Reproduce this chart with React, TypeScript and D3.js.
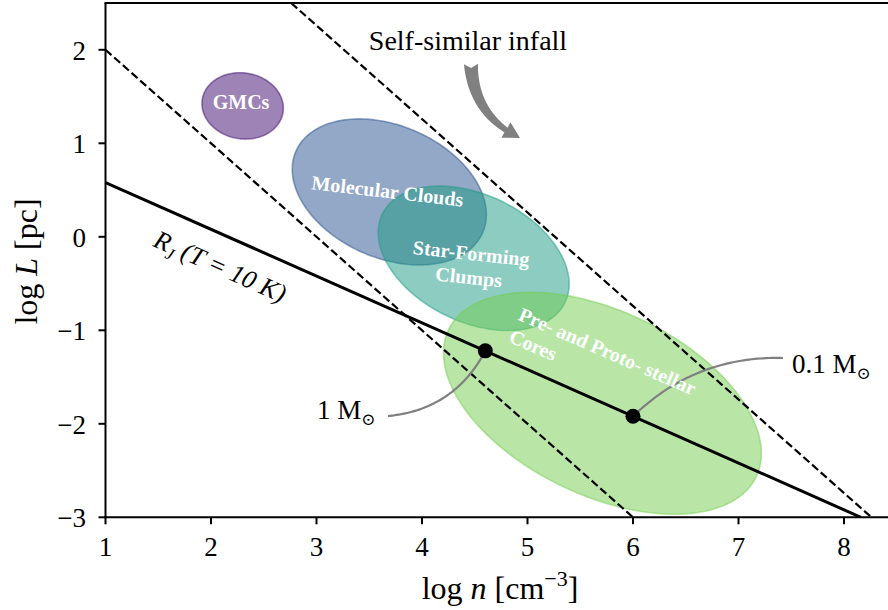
import React from "react";
import * as d3 from "d3";

// ---- axes ----
const xTicks = [1, 2, 3, 4, 5, 6, 7, 8];
const yTicks = [-3, -2, -1, 0, 1, 2];
const xDomain = [1, 8.5];
const yDomain = [-3, 2.5];

// ---- structure classes (ellipses in log n / log L space) ----
const regionNames = ["GMCs", "Molecular Clouds", "Star-Forming Clumps", "Pre- and Proto- stellar Cores"];
const regionCx = [2.30, 3.69, 4.49, 5.71];
const regionCy = [1.40, 0.48, -0.23, -1.78];
const regionSemiA = [0.39, 0.99, 0.99, 1.66];
const regionSemiB = [0.35, 0.69, 0.66, 0.96];
const regionAngle = [-20, -31, -33, -31];
const regionColors = ["#3d0a6d", "#274f8d", "#1c9b84", "#73cd4f"];

// ---- region labels ----
const labelLines = [["GMCs"], ["Molecular Clouds"], ["Star-Forming", "Clumps"], ["Pre- and Proto- stellar", "Cores"]];
const labelX = [2.285, 3.673, 4.455, 4.929];
const labelY = [1.444, 0.49, -0.302, -0.815];
const labelRot = [0, 6.5, 6, 23.5];
const labelAnchor = ["middle", "middle", "middle", "start"];

// ---- Jeans length at T = 10 K ----
const jeansN = [1, 8.16];
const jeansL = [0.58, -3.0];

// ---- self-similar infall bounds ----
const infallLowN = [1, 6];
const infallLowL = [2, -3];
const infallHighN = [2.76, 8.26];
const infallHighL = [2.5, -3];

// ---- Jeans masses marked on the relation ----
const massN = [4.6, 6.0];
const massL = [-1.22, -1.92];
const massText = ["1", "0.1"];
const massTextX = [3.005, 7.507];
const massTextY = [-1.949, -1.457];
const massLinkX = [3.678, 7.422];
const massLinkY = [-1.917, -1.296];
const massLinkRad = [-0.27, -0.21];

// ---- infall arrow ----
const infallArrowFrom = [4.464, 1.848];
const infallArrowTo = [4.929, 1.057];
const infallTextPos = [4.436, 1.998];

const SERIF = "'Liberation Serif', 'Times New Roman', Times, serif";

function quadPoints(p0: number[], p2: number[], rad: number, n = 60) {
  const mx = (p0[0] + p2[0]) / 2, my = (p0[1] + p2[1]) / 2;
  const dx = p2[0] - p0[0], dy = p2[1] - p0[1];
  const c = [mx + rad * dy, my - rad * dx];
  return d3.range(n + 1).map((i) => {
    const t = i / n, u = 1 - t;
    return [
      u * u * p0[0] + 2 * u * t * c[0] + t * t * p2[0],
      u * u * p0[1] + 2 * u * t * c[1] + t * t * p2[1],
    ];
  });
}

function fancyArrow(p0: number[], p2: number[], rad: number) {
  const tailW = 14, neckW = 5.5, headW = 18, headL = 15, notch = 4;
  const pts = quadPoints(p0, p2, rad, 80);
  const len = [0];
  for (let i = 1; i < pts.length; i++) {
    len.push(len[i - 1] + Math.hypot(pts[i][0] - pts[i - 1][0], pts[i][1] - pts[i - 1][1]));
  }
  const total = len[len.length - 1];
  const neckS = total - headL;
  const left: number[][] = [];
  const right: number[][] = [];
  let last = 0;
  for (let i = 0; i < pts.length && len[i] <= neckS; i++) {
    const a = pts[Math.max(0, i - 1)], b = pts[Math.min(pts.length - 1, i + 1)];
    const tl = Math.hypot(b[0] - a[0], b[1] - a[1]);
    const tx = (b[0] - a[0]) / tl, ty = (b[1] - a[1]) / tl;
    const w = tailW + (neckW - tailW) * (len[i] / neckS);
    left.push([pts[i][0] - ty * w / 2, pts[i][1] + tx * w / 2]);
    right.push([pts[i][0] + ty * w / 2, pts[i][1] - tx * w / 2]);
    last = i;
  }
  const np = pts[last];
  const hx = p2[0] - np[0], hy = p2[1] - np[1];
  const hl = Math.hypot(hx, hy);
  const ux = hx / hl, uy = hy / hl;
  const barbL = [np[0] - uy * headW / 2, np[1] + ux * headW / 2];
  const barbR = [np[0] + uy * headW / 2, np[1] - ux * headW / 2];
  const t0x = pts[1][0] - pts[0][0], t0y = pts[1][1] - pts[0][1];
  const t0 = Math.hypot(t0x, t0y);
  const notchPt = [p0[0] + (t0x / t0) * notch, p0[1] + (t0y / t0) * notch];
  const poly = [...left, barbL, p2, barbR, ...right.reverse(), notchPt];
  return "M" + poly.map((p) => p[0].toFixed(2) + "," + p[1].toFixed(2)).join("L") + "Z";
}

export default function App() {
  const W = 888, H = 610;
  const x = d3.scaleLinear().domain(xDomain).range([105.5, 896.75]);
  const y = d3.scaleLinear().domain(yDomain).range([517.3, 3.05]);
  const [x0, x1] = x.range();
  const [yb, yt] = y.range();

  const line = d3.line<number[]>().x((d) => x(d[0])).y((d) => y(d[1]));
  const zip = (a: number[], b: number[]) => a.map((v, i) => [v, b[i]]);

  // ellipse outlines in data coordinates, mapped through the scales
  const ellipsePath = (i: number) => {
    const phi = (regionAngle[i] * Math.PI) / 180;
    const pts = d3.range(0, 2 * Math.PI, Math.PI / 90).map((t) => {
      const ex = regionSemiA[i] * Math.cos(t), ey = regionSemiB[i] * Math.sin(t);
      return [
        regionCx[i] + ex * Math.cos(phi) - ey * Math.sin(phi),
        regionCy[i] + ex * Math.sin(phi) + ey * Math.cos(phi),
      ];
    });
    return d3.line<number[]>().x((d) => x(d[0])).y((d) => y(d[1])).curve(d3.curveLinearClosed)(pts) as string;
  };

  const jeansAngle =
    (Math.atan2(y(jeansL[1]) - y(jeansL[0]), x(jeansN[1]) - x(jeansN[0])) * 180) / Math.PI;

  const rjX = x(2.085), rjY = y(-0.323);

  const arrowD = fancyArrow(
    [x(infallArrowFrom[0]), y(infallArrowFrom[1])],
    [x(infallArrowTo[0]), y(infallArrowTo[1])],
    -0.3
  );

  return (
    <svg
      width={W}
      height={H}
      style={{ position: "absolute", left: 0, top: 0, background: "#fff" }}
      fontFamily={SERIF}
    >
      <defs>
        <clipPath id="plotArea">
          <rect x={x0} y={yt} width={x1 - x0} height={yb - yt} />
        </clipPath>
      </defs>

      <g clipPath="url(#plotArea)">
        {regionNames.map((name, i) => (
          <path
            key={name}
            d={ellipsePath(i)}
            fill={regionColors[i]}
            fillOpacity={0.5}
            stroke={regionColors[i]}
            strokeOpacity={0.5}
            strokeWidth={1.6}
          />
        ))}

        <path d={line(zip(infallLowN, infallLowL)) as string} fill="none" stroke="#000" strokeWidth={2.2} strokeDasharray="8 3.6" />
        <path d={line(zip(infallHighN, infallHighL)) as string} fill="none" stroke="#000" strokeWidth={2.2} strokeDasharray="8 3.6" />
        <path d={line(zip(jeansN, jeansL)) as string} fill="none" stroke="#000" strokeWidth={3} />

        {massN.map((n, i) => {
          const pts = quadPoints([x(massLinkX[i]), y(massLinkY[i])], [x(n), y(massL[i])], massLinkRad[i]);
          return (
            <path
              key={"link" + i}
              d={d3.line()(pts as [number, number][]) as string}
              fill="none"
              stroke="#808080"
              strokeWidth={2.2}
            />
          );
        })}
        {massN.map((n, i) => (
          <circle key={"m" + i} cx={x(n)} cy={y(massL[i])} r={7.5} fill="#000" />
        ))}
      </g>

      {/* region labels */}
      {labelLines.map((lines, i) => (
        <text
          key={"lab" + i}
          transform={`translate(${x(labelX[i])},${y(labelY[i])}) rotate(${labelRot[i]})`}
          fill="#fff"
          fontWeight="bold"
          fontSize={20}
          textAnchor={labelAnchor[i]}
        >
          {lines.map((s, j) => (
            <tspan
              key={j}
              x={0}
              y={
                labelAnchor[i] === "start"
                  ? j * 24 + 7
                  : (j - (lines.length - 1) / 2) * 24 + 7
              }
            >
              {s}
            </tspan>
          ))}
        </text>
      ))}

      {/* Jeans length label along the line */}
      <text
        transform={`translate(${rjX},${rjY}) rotate(${jeansAngle})`}
        textAnchor="middle"
        fontSize={26}
        fontStyle="italic"
        y={8}
      >
        <tspan>R</tspan>
        <tspan fontSize={17} dy={6}>J</tspan>
        <tspan dy={-6}>{" (T = 10 K)"}</tspan>
      </text>

      {/* self-similar infall */}
      <path d={arrowD} fill="#808080" />
      <text x={x(infallTextPos[0])} y={y(infallTextPos[1])} textAnchor="middle" fontSize={28}>
        Self-similar infall
      </text>

      {/* mass labels */}
      {massText.map((m, i) => (
        <text key={"mt" + i} x={x(massTextX[i])} y={y(massTextY[i])} fontSize={27}>
          {m + " M"}
          <tspan fontFamily="'DejaVu Serif', 'DejaVu Sans', serif" fontSize={17} dy={6}>
            ⊙
          </tspan>
        </text>
      ))}

      {/* spines */}
      <line x1={x0} x2={x0} y1={yt} y2={yb} stroke="#000" strokeWidth={2} />
      <line x1={x0 - 1} x2={x1} y1={yb} y2={yb} stroke="#000" strokeWidth={2} />
      <line x1={x0 - 1} x2={x1} y1={yt} y2={yt} stroke="#000" strokeWidth={2} />
      <line x1={x1} x2={x1} y1={yt} y2={yb} stroke="#000" strokeWidth={2} />

      {/* x ticks */}
      {xTicks.map((t) => (
        <g key={"xt" + t}>
          <line x1={x(t)} x2={x(t)} y1={yb} y2={yb + 7} stroke="#000" strokeWidth={2} />
          <text x={x(t)} y={yb + 38.5} textAnchor="middle" fontSize={27}>
            {t}
          </text>
        </g>
      ))}
      {/* y ticks */}
      {yTicks.map((t) => (
        <g key={"yt" + t}>
          <line x1={x0 - 7} x2={x0} y1={y(t)} y2={y(t)} stroke="#000" strokeWidth={2} />
          <text x={86} y={y(t) + 10} textAnchor="end" fontSize={27}>
            {t < 0 ? "\u2212" + Math.abs(t) : String(t)}
          </text>
        </g>
      ))}

      {/* axis labels */}
      <text transform={`translate(37,261.5) rotate(-90)`} textAnchor="middle" fontSize={32}>
        log <tspan fontStyle="italic">L</tspan> [pc]
      </text>
      <text x={500} y={599} textAnchor="middle" fontSize={32}>
        log <tspan fontStyle="italic">n</tspan> [cm
        <tspan fontSize={22} dy={-13}>{"\u22123"}</tspan>
        <tspan dy={13}>]</tspan>
      </text>
    </svg>
  );
}
